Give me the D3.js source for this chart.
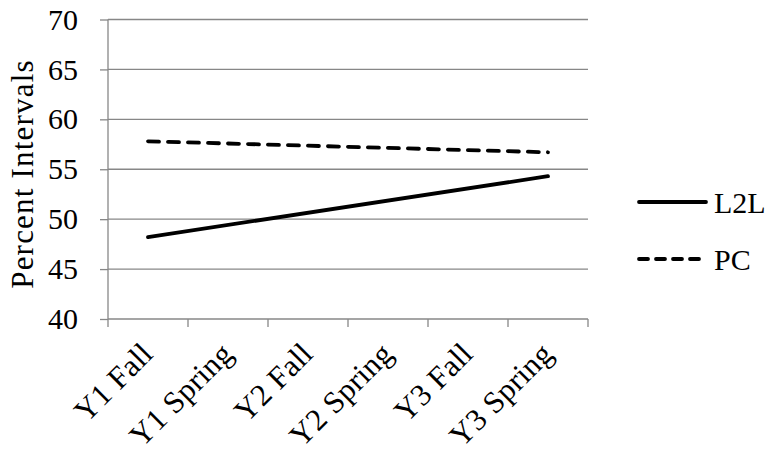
<!DOCTYPE html>
<html><head><meta charset="utf-8">
<script src="https://cdn.jsdelivr.net/npm/d3@7"></script>
<style>body{margin:0;background:#fff}svg{display:block}</style>
</head><body>
<script>
const categories = ["Y1 Fall","Y1 Spring","Y2 Fall","Y2 Spring","Y3 Fall","Y3 Spring"];
const l2lValues = [48.2, null, null, null, null, 54.3];
const pcValues  = [57.8, null, null, null, null, 56.7];
const yTicks = [40,45,50,55,60,65,70];
const seriesNames = ["L2L","PC"];

(function(){
const W=769,H=453;
const mL=108,mR=588,mT=19.5,mB=319;
const font = "'Liberation Serif','Times New Roman',serif";
const svg=d3.select("body").append("svg").attr("width",W).attr("height",H);

const x=d3.scaleBand().domain(categories).range([mL,mR]);
const y=d3.scaleLinear().domain([40,70]).range([mB,mT]);
const grid="#878787";

svg.append("g").selectAll("line").data(yTicks.filter(t=>t>40)).join("line")
  .attr("x1",mL).attr("x2",mR).attr("y1",d=>y(d)).attr("y2",d=>y(d))
  .attr("stroke",grid).attr("stroke-width",1.3);

const ya=svg.append("g").attr("transform",`translate(${mL},0)`)
  .call(d3.axisLeft(y).tickValues(yTicks).tickSize(8).tickPadding(22));
ya.selectAll("path,line").attr("stroke",grid).attr("stroke-width",1.3);
ya.select(".domain").attr("d",`M0,${mT}V${mB}`);
ya.selectAll("text").attr("font-family",font).attr("font-size",30).attr("fill","#000");

const xa=svg.append("g").attr("transform",`translate(0,${mB})`);
xa.append("line").attr("x1",mL).attr("x2",mR).attr("stroke",grid).attr("stroke-width",1.3);
const bounds=categories.map(c=>x(c)).concat([mR]);
xa.selectAll("line.tk").data(bounds).join("line").attr("class","tk")
  .attr("x1",d=>d).attr("x2",d=>d).attr("y1",0).attr("y2",8)
  .attr("stroke",grid).attr("stroke-width",1.3);
xa.selectAll("text").data(categories).join("text")
  .attr("transform",d=>`translate(${x(d)+x.bandwidth()/2-1},${29}) rotate(-45)`)
  .attr("text-anchor","end").attr("dy","0.35em")
  .attr("font-family",font).attr("font-size",31).attr("letter-spacing",0.3).text(d=>d);

svg.append("text").attr("transform",`translate(33,174) rotate(-90)`)
  .attr("text-anchor","middle").attr("font-family",font).attr("font-size",31)
  .attr("letter-spacing",1.2)
  .text("Percent Intervals");

const cx=c=>x(c)+x.bandwidth()/2;
const line=d3.line().x(d=>cx(d.c)).y(d=>y(d.v));
function pts(vals){return categories.map((c,i)=>({c,v:vals[i]})).filter(d=>d.v!=null);}
svg.append("path").attr("d",line(pts(l2lValues))).attr("fill","none")
  .attr("stroke","#000").attr("stroke-width",3.8).attr("stroke-linecap","round");
svg.append("path").attr("d",line(pts(pcValues))).attr("fill","none")
  .attr("stroke","#000").attr("stroke-width",3.8).attr("stroke-linecap","round")
  .attr("stroke-dasharray","11,9");

const lg=svg.append("g");
const ly=[202,259];
seriesNames.forEach((n,i)=>{
  lg.append("line").attr("x1",639).attr("x2",706).attr("y1",ly[i]).attr("y2",ly[i])
    .attr("stroke","#000").attr("stroke-width",3.8).attr("stroke-linecap","round")
    .attr("stroke-dasharray",i===1?"9,8":null);
  lg.append("text").attr("x",714).attr("y",ly[i]).attr("dy","0.35em")
    .attr("font-family",font).attr("font-size",30).text(n);
});
})();
</script>
</body></html>
